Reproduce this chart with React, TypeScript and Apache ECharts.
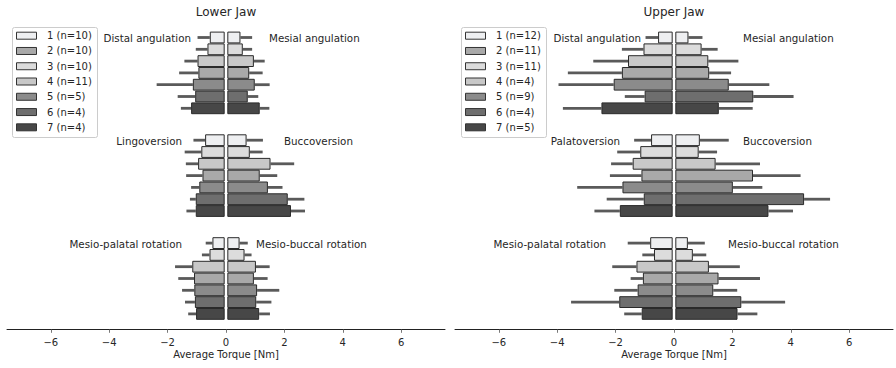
import React, { useEffect, useRef } from "react";
import * as echarts from "echarts";

// ---------- data ----------
const categories = ["1", "2", "3", "4", "5", "6", "7"];
const barColors = ["#eeeff1", "#dcdcdc", "#c8c8c8", "#a9a9a9", "#8b8b8b", "#6e6e6e", "#474747"];
const legendSwatches = ["#eeeff1", "#a9a9a9", "#dcdcdc", "#c8c8c8", "#8b8b8b", "#6e6e6e", "#474747"];
const legendLower = ["1 (n=10)", "2 (n=10)", "3 (n=10)", "4 (n=11)", "5 (n=5)", "6 (n=4)", "7 (n=4)"];
const legendUpper = ["1 (n=12)", "2 (n=11)", "3 (n=11)", "4 (n=4)", "5 (n=9)", "6 (n=4)", "7 (n=5)"];
const tickValues = [-6, -4, -2, 0, 2, 4, 6];

// Lower jaw (magnitudes, Nm) and standard deviations
const lowerDistal = [0.51, 0.59, 0.93, 0.9, 1.09, 1.01, 1.15];
const lowerDistalSd = [0.42, 0.4, 0.45, 0.66, 1.24, 0.6, 0.35];
const lowerMesial = [0.45, 0.53, 0.91, 0.75, 0.94, 0.7, 1.11];
const lowerMesialSd = [0.4, 0.32, 0.37, 0.46, 0.51, 0.36, 0.33];
const lowerLingo = [0.67, 0.8, 0.91, 0.76, 0.87, 0.99, 0.99];
const lowerLingoSd = [0.4, 0.57, 0.42, 0.56, 0.28, 0.2, 0.32];
const lowerBucco = [0.66, 0.77, 1.48, 1.11, 1.39, 2.07, 2.18];
const lowerBuccoSd = [0.56, 0.44, 0.81, 0.6, 0.5, 0.57, 0.48];
const lowerMesioPal = [0.42, 0.52, 1.11, 1.05, 1.04, 1.02, 0.98];
const lowerMesioPalSd = [0.23, 0.26, 0.59, 0.54, 0.42, 0.34, 0.27];
const lowerMesioBuc = [0.42, 0.59, 0.98, 0.91, 1.02, 0.99, 1.09];
const lowerMesioBucSd = [0.28, 0.24, 0.47, 0.47, 0.76, 0.52, 0.37];

// Upper jaw
const upperDistal = [0.5, 1.0, 1.53, 1.74, 2.02, 0.96, 2.44];
const upperDistalSd = [0.43, 0.74, 1.19, 1.85, 1.89, 0.68, 1.32];
const upperMesial = [0.45, 0.9, 1.13, 1.16, 1.83, 2.67, 1.49];
const upperMesialSd = [0.48, 0.55, 1.03, 0.75, 1.39, 1.38, 1.16];
const upperPalato = [0.74, 1.11, 1.37, 1.07, 1.72, 0.99, 1.81];
const upperPalatoSd = [0.58, 0.79, 0.74, 1.08, 1.55, 1.27, 0.87];
const upperBucco = [0.84, 0.8, 1.38, 2.66, 1.97, 4.41, 3.19];
const upperBuccoSd = [0.99, 0.63, 1.52, 1.63, 1.01, 0.89, 0.84];
const upperMesioPal = [0.77, 0.64, 1.24, 1.02, 1.2, 1.83, 1.06];
const upperMesioPalSd = [0.77, 0.4, 0.83, 0.42, 0.8, 1.65, 0.6];
const upperMesioBuc = [0.43, 0.6, 1.15, 1.48, 1.3, 2.26, 2.13];
const upperMesioBucSd = [0.58, 0.46, 1.06, 1.42, 0.82, 1.5, 0.68];

// ---------- layout ----------
const FONT = "DejaVu Sans";
const TEXT = "#262626";
const OFFSET = 0.045;
const panelLefts = [7, 455];
const panelWidth = 438;
const blockTops = [31.6, 134.3, 237.2];
const blockHeight = 82.6;

type Block = {
  left: number[]; leftSd: number[]; right: number[]; rightSd: number[];
  leftLabel: string; rightLabel: string; leftLabelX: number; rightLabelX: number; labelY: number;
};

const panels: { title: string; titleX: number; legend: string[]; legendX: number; blocks: Block[] }[] = [
  {
    title: "Lower Jaw", titleX: 226, legend: legendLower, legendX: 12,
    blocks: [
      { left: lowerDistal, leftSd: lowerDistalSd, right: lowerMesial, rightSd: lowerMesialSd,
        leftLabel: "Distal angulation", rightLabel: "Mesial angulation", leftLabelX: 191, rightLabelX: 269, labelY: 38 },
      { left: lowerLingo, leftSd: lowerLingoSd, right: lowerBucco, rightSd: lowerBuccoSd,
        leftLabel: "Lingoversion", rightLabel: "Buccoversion", leftLabelX: 182, rightLabelX: 284, labelY: 141 },
      { left: lowerMesioPal, leftSd: lowerMesioPalSd, right: lowerMesioBuc, rightSd: lowerMesioBucSd,
        leftLabel: "Mesio-palatal rotation", rightLabel: "Mesio-buccal rotation", leftLabelX: 182, rightLabelX: 256, labelY: 243.5 },
    ],
  },
  {
    title: "Upper Jaw", titleX: 674, legend: legendUpper, legendX: 461,
    blocks: [
      { left: upperDistal, leftSd: upperDistalSd, right: upperMesial, rightSd: upperMesialSd,
        leftLabel: "Distal angulation", rightLabel: "Mesial angulation", leftLabelX: 641, rightLabelX: 743, labelY: 38 },
      { left: upperPalato, leftSd: upperPalatoSd, right: upperBucco, rightSd: upperBuccoSd,
        leftLabel: "Palatoversion", rightLabel: "Buccoversion", leftLabelX: 620, rightLabelX: 743, labelY: 141 },
      { left: upperMesioPal, leftSd: upperMesioPalSd, right: upperMesioBuc, rightSd: upperMesioBucSd,
        leftLabel: "Mesio-palatal rotation", rightLabel: "Mesio-buccal rotation", leftLabelX: 606, rightLabelX: 728, labelY: 243.5 },
    ],
  },
];

const fmt = (v: number) => (v < 0 ? "\u2212" + Math.abs(v) : String(v));

function buildOption() {
  const grid: any[] = [];
  const xAxis: any[] = [];
  const yAxis: any[] = [];
  const series: any[] = [];
  const graphic: any[] = [];

  panels.forEach((p, pi) => {
    graphic.push({
      type: "text", x: p.titleX, y: 12, z: 10,
      style: { text: p.title, fill: TEXT, font: `12px "${FONT}"`, textAlign: "center", textVerticalAlign: "middle" },
    });
    // legend frame
    graphic.push({
      type: "rect", z: 20,
      shape: { x: p.legendX + 0.5, y: 27.5, width: 85, height: 110, r: 2 },
      style: { fill: "rgba(255,255,255,0.8)", stroke: "#cccccc", lineWidth: 1 },
    });
    p.legend.forEach((name, i) => {
      const cy = 35.7 + i * 15.27;
      graphic.push({
        type: "rect", z: 21,
        shape: { x: p.legendX + 4.5, y: cy - 3.5, width: 20, height: 7 },
        style: { fill: legendSwatches[i], stroke: "#333333", lineWidth: 1 },
      });
      graphic.push({
        type: "text", x: p.legendX + 35, y: cy, z: 21,
        style: { text: name, fill: TEXT, font: `10px "${FONT}"`, textAlign: "left", textVerticalAlign: "middle" },
      });
    });

    p.blocks.forEach((b, bi) => {
      const g = grid.length;
      const isBottom = bi === p.blocks.length - 1;
      grid.push({ left: panelLefts[pi], width: panelWidth, top: blockTops[bi], height: blockHeight, containLabel: false });
      xAxis.push({
        type: "value", gridIndex: g, min: -7.5, max: 7.5, show: isBottom, offset: 9.5,
        splitLine: { show: false },
        axisLine: { show: true, onZero: false, lineStyle: { color: "#222222", width: 1 } },
        axisTick: { show: true, customValues: tickValues, length: 3.5, lineStyle: { color: "#555555", width: 0.8 } },
        axisLabel: { show: true, customValues: tickValues, formatter: fmt, color: TEXT, fontFamily: FONT, fontSize: 10, margin: 8 },
        name: isBottom ? "Average Torque [Nm]" : "",
        nameLocation: "middle", nameGap: 20,
        nameTextStyle: { color: TEXT, fontFamily: FONT, fontSize: 10 },
      });
      yAxis.push({ type: "category", gridIndex: g, data: categories, inverse: true, show: false });

      const barStyle = (color: string) => ({ color, borderColor: "#2a2a2a", borderWidth: 1 });
      series.push({
        type: "bar", xAxisIndex: g, yAxisIndex: g, stack: "L" + g, barWidth: "100%", barGap: "-100%", silent: true,
        itemStyle: { color: "transparent" }, data: categories.map(() => -OFFSET), z: 2,
      });
      series.push({
        type: "bar", xAxisIndex: g, yAxisIndex: g, stack: "L" + g, barWidth: "100%", barGap: "-100%", z: 2,
        data: b.left.map((v, i) => ({ value: -v, itemStyle: barStyle(barColors[i]) })),
      });
      series.push({
        type: "bar", xAxisIndex: g, yAxisIndex: g, stack: "R" + g, barWidth: "100%", barGap: "-100%", silent: true,
        itemStyle: { color: "transparent" }, data: categories.map(() => OFFSET), z: 2,
      });
      series.push({
        type: "bar", xAxisIndex: g, yAxisIndex: g, stack: "R" + g, barWidth: "100%", barGap: "-100%", z: 2,
        data: b.right.map((v, i) => ({ value: v, itemStyle: barStyle(barColors[i]) })),
      });
      const errData: number[][] = [];
      b.left.forEach((v, i) => errData.push([-(OFFSET + v), -(OFFSET + v + b.leftSd[i]), i]));
      b.right.forEach((v, i) => errData.push([OFFSET + v, OFFSET + v + b.rightSd[i], i]));
      series.push({
        type: "custom", xAxisIndex: g, yAxisIndex: g, z: 1, silent: true,
        encode: { x: [0, 1], y: 2 },
        data: errData,
        renderItem: (params: any, api: any) => {
          const s = api.coord([api.value(0), api.value(2)]);
          const e = api.coord([api.value(1), api.value(2)]);
          return {
            type: "line",
            shape: { x1: s[0], y1: s[1], x2: e[0], y2: e[1] },
            style: { stroke: "#5a5a5a", lineWidth: 2.8 },
          };
        },
      });

      graphic.push({
        type: "text", x: b.leftLabelX, y: b.labelY, z: 10,
        style: { text: b.leftLabel, fill: TEXT, font: `10.3px "${FONT}"`, textAlign: "right", textVerticalAlign: "middle" },
      });
      graphic.push({
        type: "text", x: b.rightLabelX, y: b.labelY, z: 10,
        style: { text: b.rightLabel, fill: TEXT, font: `10.3px "${FONT}"`, textAlign: "left", textVerticalAlign: "middle" },
      });
    });
  });

  return {
    animation: false,
    backgroundColor: "#ffffff",
    textStyle: { fontFamily: FONT },
    grid, xAxis, yAxis, series, graphic,
  };
}

export default function App() {
  const ref = useRef<HTMLDivElement>(null);
  useEffect(() => {
    if (!ref.current) return;
    const chart = echarts.init(ref.current, undefined, { renderer: "svg" });
    chart.setOption(buildOption() as any);
    return () => chart.dispose();
  }, []);
  return (
    <div
      ref={ref}
      style={{ position: "fixed", left: 0, top: 0, width: 896, height: 368, background: "#fff" }}
    />
  );
}
